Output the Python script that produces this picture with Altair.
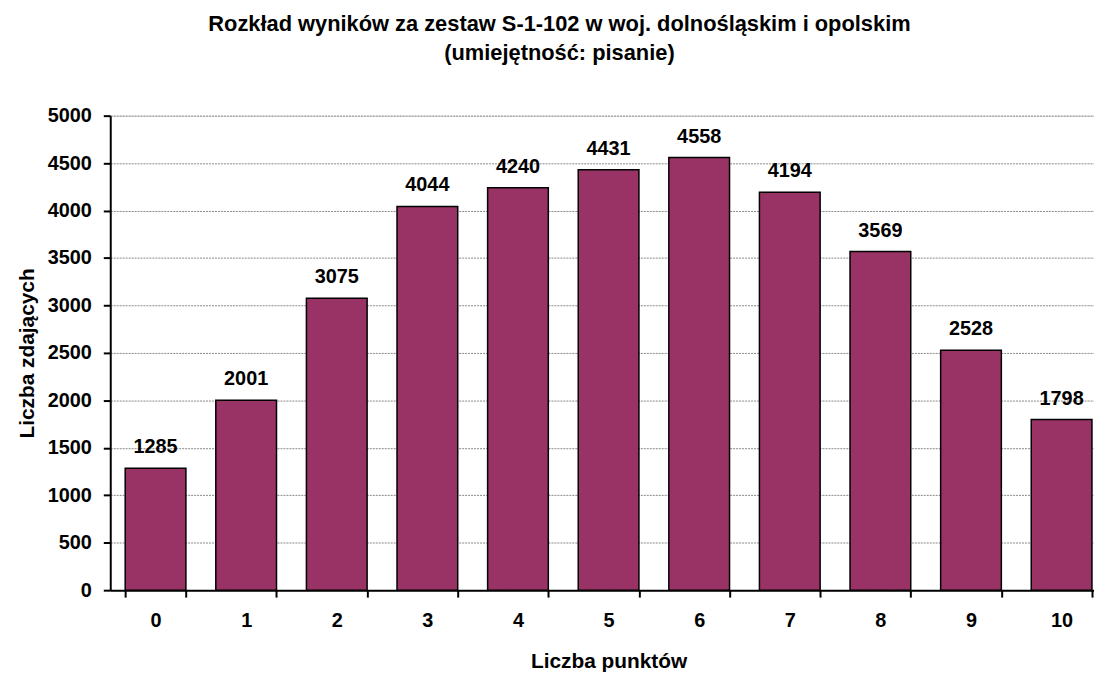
import altair as alt
import pandas as pd

points = ["0", "1", "2", "3", "4", "5", "6", "7", "8", "9", "10"]
counts = [1285, 2001, 3075, 4044, 4240, 4431, 4558, 4194, 3569, 2528, 1798]

df = pd.DataFrame({"pkt": points, "n": counts})

FONT = "Liberation Sans"

base = alt.Chart(df).encode(
    x=alt.X("pkt:N", sort=points, title="Liczba punktów",
            scale=alt.Scale(paddingInner=0.33, paddingOuter=0.165, range=[0, 1004]),
            axis=alt.Axis(labelAngle=0, grid=False, tickBand="extent", ticks=True,
                          tickSize=7, tickWidth=2, tickColor="black",
                          domainColor="black", domainWidth=2,
                          labelFont=FONT, labelFontSize=20, labelFontWeight="bold",
                          labelColor="black", labelPadding=14,
                          titleFont=FONT, titleFontSize=21, titleFontWeight="bold",
                          titleColor="black", titlePadding=20, titleX=502)),
)

bars = base.mark_bar(color="#993366", stroke="black", strokeWidth=1.5).encode(
    y=alt.Y("n:Q", title="Liczba zdających",
            scale=alt.Scale(domain=[0, 5000], nice=False),
            axis=alt.Axis(values=list(range(0, 5001, 500)), format="d",
                          tickSize=7, tickWidth=2,
                          tickColor="black", domainColor="black", domainWidth=2,
                          grid=True, gridColor="#888888", gridDash=[2, 1], gridWidth=1,
                          labelFont=FONT, labelFontSize=20, labelFontWeight="bold",
                          labelColor="black", labelPadding=12,
                          titleFont=FONT, titleFontSize=21, titleFontWeight="bold",
                          titleColor="black", titlePadding=10))
)

labels = base.mark_text(font=FONT, fontSize=20, fontWeight="bold", color="black",
                        baseline="alphabetic", dy=-15).encode(
    y=alt.Y("n:Q"),
    text=alt.Text("n:Q", format="d"),
)

chart = (bars + labels).properties(
    width=991, height=478,
    autosize=alt.AutoSizeParams(type="none"),
    padding={"left": 103, "top": 106, "right": 0, "bottom": 83},
    title=alt.TitleParams(
        text=["Rozkład wyników za zestaw S-1-102 w woj. dolnośląskim i opolskim",
              "(umiejętność: pisanie)"],
        font=FONT, fontSize=22, fontWeight="bold", color="black",
        anchor="middle", lineHeight=29, offset=41, dx=-43),
).configure_view(stroke=None).configure(background="white")

chart.save("out.html", embed_options={"renderer": "svg", "actions": False})
